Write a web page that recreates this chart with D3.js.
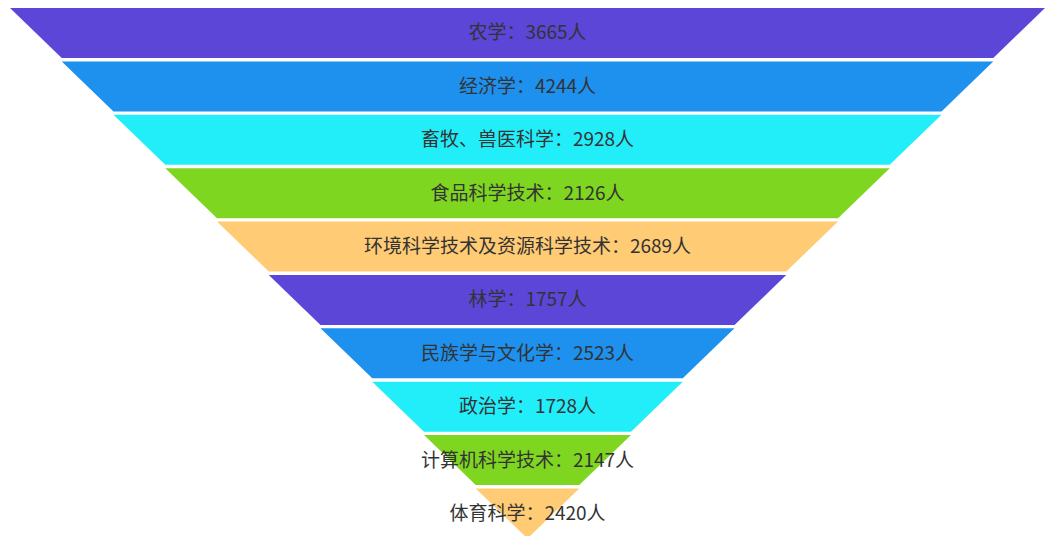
<!DOCTYPE html>
<html><head><meta charset="utf-8">
<script src="https://cdn.jsdelivr.net/npm/d3@7/dist/d3.min.js"></script>
<style>html,body{margin:0;padding:0;background:#fff;}svg{display:block;}</style>
</head><body>
<svg id="chart" width="1046" height="536"></svg>
<script>
const categories = ["农学","经济学","畜牧、兽医科学","食品科学技术","环境科学技术及资源科学技术","林学","民族学与文化学","政治学","计算机科学技术","体育科学"];
const values = [3665,4244,2928,2126,2689,1757,2523,1728,2147,2420];
const colors = ["#5b46d8","#1e90ee","#22eefa","#7fd620","#ffcb74"];

(function(){
const svg = d3.select("#chart");
const y0Top = 8, yBottom = 538.5, gap = 3.4;
const cx = 527.5, halfTop = 517.5;
const n = categories.length;
const y = d3.scaleBand().domain(d3.range(n)).range([y0Top, yBottom + gap]);
const band = y.bandwidth();
const hw = d3.scaleLinear().domain([0, n]).range([halfTop, 0]);

const g = svg.append("g");
categories.forEach((c, i) => {
  const y0 = y(i), y1 = y(i) + band - gap;
  const a = hw(i), b = hw(i + 1);
  g.append("path")
    .attr("d", `M${cx - a},${y0}L${cx + a},${y0}L${cx + b},${y1}L${cx - b},${y1}Z`)
    .attr("fill", colors[i % colors.length]);
  g.append("text")
    .attr("x", cx).attr("y", (y0 + y1) / 2 - 2)
    .attr("text-anchor", "middle").attr("dominant-baseline", "central")
    .attr("font-family", "'Noto Sans CJK SC','Noto Sans',sans-serif")
    .attr("font-size", 19).attr("fill", "#333")
    .text(`${c}：${values[i]}人`);
});
})();
</script>
</body></html>
